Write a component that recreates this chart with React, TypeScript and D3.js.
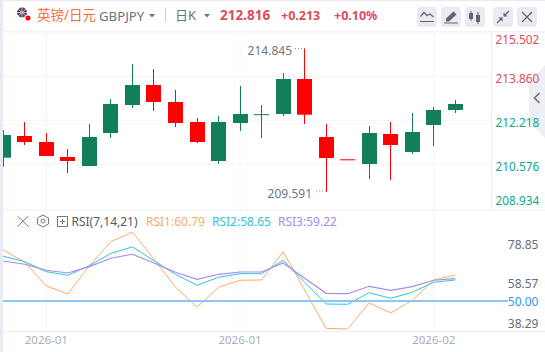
import React from "react";
import * as d3 from "d3";

const W = 545, H = 352;
const highs = [211.847,212.140,211.737,211.152,212.066,212.980,214.260,214.077,213.309,212.286,212.359,213.456,212.761,213.931,214.845,212.066,210.776,211.993,212.140,212.469,212.688,212.944];
const opens = [210.834,211.628,211.408,210.860,210.531,211.737,212.761,213.492,212.871,212.140,210.714,212.103,212.421,212.432,213.712,211.591,210.776,210.604,211.701,211.043,212.030,212.578];
const closes = [211.664,211.408,210.897,210.714,211.591,212.798,213.492,212.871,212.103,211.408,212.140,212.432,212.426,213.712,212.406,210.823,210.776,211.737,211.299,211.774,212.578,212.798];
const lows = [210.505,211.299,210.897,210.275,210.531,211.555,212.651,212.542,211.957,211.372,210.604,211.811,211.555,212.359,212.066,209.591,210.776,210.056,210.019,210.970,211.262,212.469];

const rsi1 = [76.15,69.85,57.69,53.59,68.10,80.41,85.38,71.38,57.18,46.92,57.03,60.62,60.77,75.28,55.64,36.00,35.64,48.97,43.85,50.36,60.77,63.33];
const rsi2 = [72.92,70.15,65.03,63.18,68.10,74.46,77.69,70.67,63.69,58.05,62.15,64.00,64.00,70.87,59.59,48.46,48.31,54.26,51.38,54.46,59.59,60.77];
const rsi3 = [70.51,68.82,65.74,64.36,67.59,71.90,73.95,69.49,64.72,61.13,63.69,64.87,64.87,69.49,61.64,53.95,53.74,57.54,55.49,57.33,60.62,61.44];

const priceGrid = [213.8, 212.2, 210.6];
const priceLabels = [
  { t: "215.502", v: 215.24, c: "#e0495c" },
  { t: "213.860", v: 213.80, c: "#e0495c" },
  { t: "212.218", v: 212.2, c: "#12a88a" },
  { t: "210.576", v: 210.6, c: "#12a88a" },
  { t: "208.934", v: 209.35, c: "#12a88a" },
];
const rsiLabels = ["78.85", "58.57", "38.29"];
const dateTicks = [{ i: 2, t: "2026-01" }, { i: 11, t: "2026-01" }, { i: 20, t: "2026-02" }];

const FONT = "'Noto Sans','Noto Sans CJK SC',sans-serif";
const UP = "#118058", DOWN = "#ff0000";
const GRID = "#f3f4f8", SEP = "#eceef3";

const x = d3.scaleLinear().domain([0, 21]).range([3.3, 455.3]);
const y = d3.scaleLinear().domain([214.845, 209.591]).range([48, 191.7]);
const yR = d3.scaleLinear().domain([50, 78.85]).range([301, 244.7]);
const line = d3.line<number>().x((_, i) => x(i)).y((d) => yR(d));
const BW = 15;

function Btn({ x: bx, children }: { x: number; children: React.ReactNode }) {
  return (
    <g transform={`translate(${bx},7)`}>
      <rect width={20} height={20} rx={4} fill="#e9ebf1" />
      {children}
    </g>
  );
}

export default function App() {
  return (
    <svg width={W} height={H} style={{ position: "absolute", left: 0, top: 0, display: "block", background: "#fff", fontFamily: FONT }}>
      {/* frame */}
      <rect x={0} y={0} width={W} height={1} fill="#e8ebf3" />
      <rect x={0} y={0} width={3} height={H} fill="#e8ebf3" />
      <rect x={3} y={31} width={W - 3} height={1.5} fill={GRID} />

      {/* grids */}
      {priceGrid.map((v) => (
        <line key={v} x1={3} x2={492} y1={y(v)} y2={y(v)} stroke={GRID} strokeWidth={1} />
      ))}
      {dateTicks.map((d) => (
        <line key={d.i} x1={x(d.i)} x2={x(d.i)} y1={32} y2={331} stroke={GRID} strokeWidth={1} />
      ))}
      <line x1={491.5} x2={491.5} y1={32} y2={210} stroke={SEP} />
      <line x1={3} x2={W} y1={210} y2={210} stroke={SEP} />
      <line x1={3} x2={W} y1={331.5} y2={331.5} stroke={SEP} />

      {/* candles */}
      {opens.map((o, i) => {
        const c = closes[i];
        const col = c > o ? UP : DOWN;
        const top = y(Math.max(o, c)), bot = y(Math.min(o, c));
        const cx = Math.round(x(i) - 0.5) + 0.5;
        const left = Math.max(cx - BW / 2, 3);
        return (
          <g key={i}>
            <line x1={cx} x2={cx} y1={y(highs[i])} y2={y(lows[i])} stroke={col} strokeWidth={1} />
            <rect x={left} y={top} width={cx + BW / 2 - left} height={Math.max(bot - top, 1)} fill={col} />
          </g>
        );
      })}

      {/* extreme labels */}
      <text x={292} y={55} textAnchor="end" fontSize={12} fill="#70757f">214.845</text>
      <line x1={295} x2={305} y1={48.5} y2={48.5} stroke="#8a8f99" strokeDasharray="1 2" />
      <text x={312} y={198} textAnchor="end" fontSize={12} fill="#70757f">209.591</text>
      <line x1={316} x2={326} y1={191} y2={191} stroke="#8a8f99" strokeDasharray="1 2" />

      {/* collapse handle */}
      <path d="M545 65 L529 83 L529 122 L545 138 Z" fill="#eeeff4" />
      <path d="M539.5 93 L534.5 98 L539.5 103" fill="none" stroke="#6b7280" strokeWidth={1.7} />

      {/* price axis */}
      {priceLabels.map((l) => (
        <text key={l.t} x={495.5} y={y(l.v) + 6.5} fontSize={12.5} textLength={43.8} lengthAdjust="spacingAndGlyphs" fill={l.c}>{l.t}</text>
      ))}

      {/* RSI lines */}
      <path d={line(rsi1) ?? ""} fill="none" stroke="#fdac67" strokeWidth={1} />
      <path d={line(rsi2) ?? ""} fill="none" stroke="#2fc4de" strokeWidth={1} />
      <path d={line(rsi3) ?? ""} fill="none" stroke="#a98be6" strokeWidth={1.2} />
      <line x1={3} x2={508} y1={yR(50)} y2={yR(50)} stroke="#8cc6fb" strokeWidth={2} />

      {/* RSI axis */}
      {rsiLabels.map((t) => (
        <text key={t} x={538.5} y={yR(+t) + 4} textAnchor="end" fontSize={12} fill="#686d78">{t}</text>
      ))}
      <text x={538.5} y={306} textAnchor="end" fontSize={12} fill="#2f96f3">50.00</text>

      {/* date ticks */}
      {dateTicks.map((d) => (
        <text key={d.i} x={x(d.i)} y={344} textAnchor="middle" fontSize={11.5} fill="#a9adb8">{d.t}</text>
      ))}

      {/* RSI legend */}
      <path d="M17.5 216 L28.5 226.5 M28.5 216 L17.5 226.5" stroke="#757a85" strokeWidth={1} />
      <path d="M43 215 L48.5 218 L48.5 224 L43 227 L37.5 224 L37.5 218 Z" fill="none" stroke="#757a85" />
      <circle cx={43} cy={221} r={2} fill="none" stroke="#757a85" />
      <rect x={57.5} y={216.5} width={10} height={10} fill="none" stroke="#757a85" />
      <path d="M60 221.5 H65 M62.5 219 V224" stroke="#757a85" />
      <text x={71.5} y={225.7} fontSize={12} fill="#555b66">RSI(7,14,21)</text>
      <text x={146} y={225.7} fontSize={12} fill="#fdac67">RSI1:60.79</text>
      <text x={212} y={225.7} fontSize={12} fill="#2fc4de">RSI2:58.65</text>
      <text x={278} y={225.7} fontSize={12} fill="#a98be6">RSI3:59.22</text>

      {/* header */}
      <circle cx={22} cy={12.5} r={5} fill="#3b3f63" />
      <path d="M18 9 L26 16 M26 9 L18 16 M22 7.5 V17.5 M17 12.5 H27" stroke="#e8b6bd" strokeWidth={1} />
      <circle cx={28} cy={18} r={2.5} fill="#f00" />
      <text x={37} y={20} fontSize={13.5} fill="#f4703c">英镑/日元</text>
      <text x={99} y={20.5} fontSize={13.2} fill="#6b7280">GBPJPY</text>
      <path d="M149 14 L155 14 L152 17.5 Z" fill="#6b7280" />
      <line x1={165.5} x2={165.5} y1={9} y2={22} stroke="#c9ccd3" />
      <text x={175} y={19.5} fontSize={13} fill="#6b7280">日K</text>
      <path d="M204 14 L210 14 L207 17.5 Z" fill="#6b7280" />
      <text x={220} y={20} fontSize={13.5} fontWeight={700} fill="#df4a5c">212.816</text>
      <text x={281} y={19.5} fontSize={12.5} fontWeight={700} fill="#df4a5c">+0.213</text>
      <text x={334} y={19.5} fontSize={12.5} fontWeight={700} fill="#df4a5c">+0.10%</text>

      <Btn x={417}>
        <path d="M3.5 9.5 L7 5.5 L10 8.5 L13 7 L16.5 10 M3 14.5 H17" fill="none" stroke="#5f6470" strokeWidth={1.2} />
      </Btn>
      <Btn x={441}>
        <path d="M5 11.5 L12.5 4.5 L15.5 7.5 L8 14.5 L5 14.5 Z" fill="#5f6470" />
        <path d="M3 16 H17" stroke="#5f6470" strokeWidth={1} />
      </Btn>
      <Btn x={465}>
        <rect x={4} y={6} width={4} height={6} fill="#5f6470" />
        <path d="M6 4 V14 M13 5 V17" stroke="#5f6470" />
        <rect x={11} y={8} width={4} height={7} fill="#5f6470" />
      </Btn>
      <Btn x={493}>
        <path d="M4 16 L9 11 M11 9 L16 4" stroke="#5f6470" strokeWidth={1.2} />
        <path d="M5.5 10.5 H9.5 V14.5 Z M10.5 5.5 V9.5 H14.5 Z" fill="#5f6470" />
      </Btn>
      <Btn x={517}>
        <path d="M5 5 L15 15 M15 5 L5 15" stroke="#5f6470" strokeWidth={1.2} />
      </Btn>
    </svg>
  );
}
